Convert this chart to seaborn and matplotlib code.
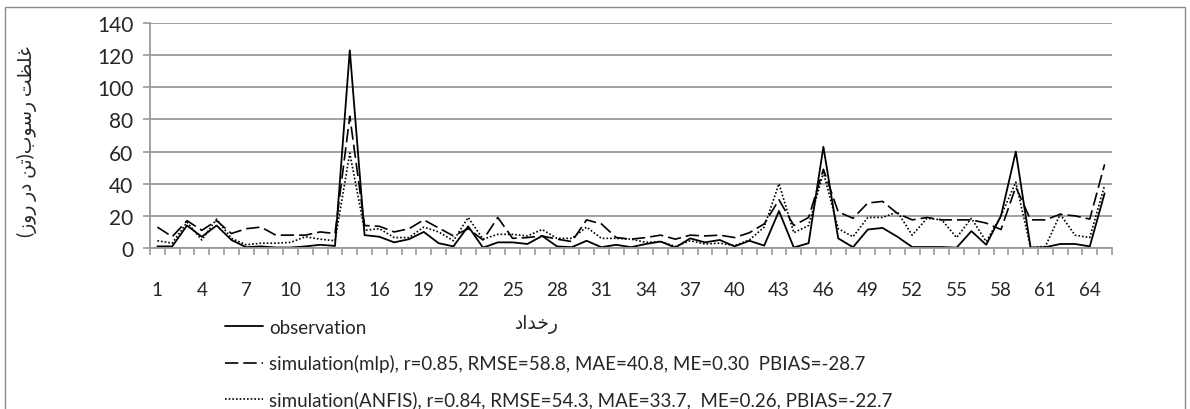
import numpy as np
import pandas as pd
import seaborn as sns
import matplotlib.pyplot as plt
from matplotlib.patches import Rectangle

# ---------------------------------------------------- data ----------------------------------------------------
days = list(range(1, 66))

observation = [1, 1, 14, 7, 14, 5, 0.5, 1, 0.3, 0.3, 1, 2, 1.3, 123, 8, 7, 3.5, 5.5, 10, 3,
               1, 13.5, 0.2, 3.5, 3.5, 2.5, 7.5, 1, 0.5, 4.5, 0.5, 2, 0.5, 2.5, 4, 0.3, 6, 3.5, 5, 1,
               4.5, 1.5, 23, 0.3, 3, 63, 6, 0.5, 11.5, 12.5, 7, 0.6, 0.6, 0.6, 0.2, 10.5, 2, 20, 60, 0.2,
               0.5, 2.5, 2.5, 1, 34]

sim_mlp = [13, 7, 17, 11, 17, 9, 12, 13, 8, 8, 8, 10, 9, 82, 14, 13.5, 10, 12, 17.5, 12.5,
           7.5, 12, 5, 19, 6, 6.5, 7.5, 5.5, 4, 17.5, 15, 6.5, 5.5, 6.5, 8, 5.5, 8, 7.5, 8, 6.5,
           9.5, 15, 30, 14, 19, 49, 22.5, 18.5, 28, 29, 21.5, 17.5, 19, 17.5, 17.5, 17.5, 15.5, 11.5, 38, 17.5,
           17.5, 21, 20, 18, 52]

sim_anfis = [4.5, 3, 16, 5, 18, 6, 2, 3, 3, 3.5, 7, 5.5, 4.5, 59, 11, 12, 6.5, 6.5, 13, 10,
             4.5, 19, 5.5, 8.5, 8.5, 7.5, 11.5, 6, 6, 13, 6, 6, 5.5, 3.5, 4, 1, 4.5, 2.5, 3, 1.5,
             5, 13, 40, 9.5, 14, 47, 12, 7, 19, 19, 22.5, 8, 18.5, 17.5, 6.5, 18.5, 4, 20, 41, 0.3,
             1, 21, 8, 6.5, 39]

x_tick_labels = [str(d) for d in range(1, 66, 3)]

label_obs = 'observation'
label_mlp = 'simulation(mlp), r=0.85, RMSE=58.8, MAE=40.8, ME=0.30  PBIAS=-28.7'
label_anfis = 'simulation(ANFIS), r=0.84, RMSE=54.3, MAE=33.7,  ME=0.26, PBIAS=-22.7'

# Persian labels in visual order (matplotlib does no Arabic shaping):
# y: "غلظت رسوب(تن در روز)"   x: "رخداد"
y_label = '(' + '\uFEAF\uFEED\uFEAD' + ' ' + '\uFEAD\uFEA9' + ' ' + '\uFEE6\uFE97' + ')' + \
          '\uFE8F\uFEEE\uFEB3\uFEAD' + ' ' + '\uFE96\uFEC8\uFEE0\uFECF'
x_label = '\uFEA9\uFE8D\uFEAA\uFEA7\uFEAD'

# ---------------------------------------------------- plot ----------------------------------------------------
sns.set_style('ticks')
plt.rcParams['font.family'] = ['Lato', 'DejaVu Sans']

W, H = 1190, 410
grid_col = '#9a9a9a'
fig = plt.figure(figsize=(W / 100, H / 100), dpi=100)
ax = fig.add_axes([150 / W, 1 - 249 / H, (1112 - 150) / W, (249 - 24) / H])

sns.lineplot(x=days, y=observation, ax=ax, color='black', lw=1.3, label=label_obs)
sns.lineplot(x=days, y=sim_mlp, ax=ax, color='black', lw=1.2, linestyle=(0, (8, 3)), label=label_mlp)
sns.lineplot(x=days, y=sim_anfis, ax=ax, color='black', lw=1.2, linestyle=(0, (1, 1.2)), label=label_anfis)

ax.set_xlim(0.5, 65.5)
ax.set_ylim(0, 140)
ax.set_yticks(range(0, 141, 20))
# tick marks sit between categories (major), labels every third category (minor)
ax.set_xticks(np.arange(0.5, 66, 1))
ax.set_xticklabels([])
ax.set_xticks(range(1, 66, 3), minor=True)
ax.set_xticklabels(x_tick_labels, minor=True)
ax.tick_params(axis='x', which='major', length=5, width=1.2, color=grid_col, direction='out')
ax.tick_params(axis='x', which='minor', length=0, pad=24, labelsize=13.5)
ax.tick_params(axis='y', which='major', length=5, width=1.2, color=grid_col, direction='out',
               pad=7, labelsize=15)
ax.yaxis.grid(True, color=grid_col, lw=1.3)
ax.set_axisbelow(True)
for s in ['top', 'right']:
    ax.spines[s].set_visible(False)
for s in ['left', 'bottom']:
    ax.spines[s].set_color(grid_col)
    ax.spines[s].set_linewidth(1.3)
ax.set_xlabel('')
ax.set_ylabel('')

handles, labels = ax.get_legend_handles_labels()
ax.get_legend().remove()
fig.legend(handles, labels, loc='upper left', bbox_to_anchor=(225 / W, 1 - 320 / H),
           frameon=False, borderpad=0, borderaxespad=0, handlelength=2.0,
           handletextpad=0.35, labelspacing=0.97, fontsize=13.5)

fig.text(537 / W, 1 - 325 / H, x_label, ha='center', va='center', fontsize=13.5)
fig.text(27 / W, 1 - 142 / H, y_label, ha='center', va='center', rotation=90, fontsize=13.5)

fig.patches.append(Rectangle((5 / W, -0.1), 1180 / W, 1 - 8 / H + 0.1, transform=fig.transFigure,
                             fill=False, edgecolor='#8c8c8c', lw=1))

fig.savefig('out.png', dpi=100)
